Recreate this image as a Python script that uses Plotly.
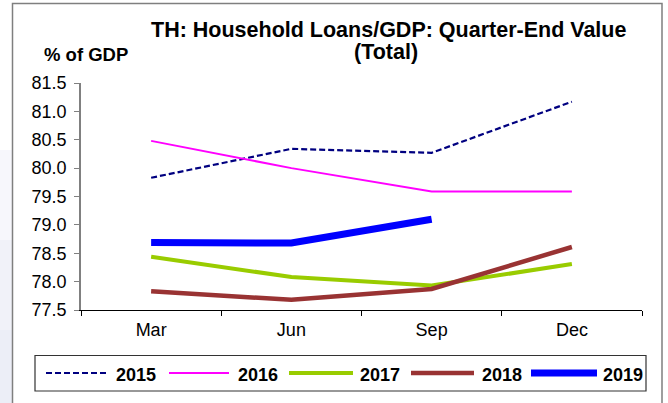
import plotly.graph_objects as go

# Quarter-end household loans as % of GDP, Thailand
quarters = ["Mar", "Jun", "Sep", "Dec"]
years = ["2015", "2016", "2017", "2018", "2019"]
y2015 = [79.83, 80.34, 80.27, 81.17]
y2016 = [80.48, 80.00, 79.59, 79.59]
y2017 = [78.44, 78.08, 77.93, 78.31]
y2018 = [77.83, 77.68, 77.87, 78.61]
y2019 = [78.69, 78.68, 79.10]
y_ticks = [77.5, 78.0, 78.5, 79.0, 79.5, 80.0, 80.5, 81.0, 81.5]

series_values = [y2015, y2016, y2017, y2018, y2019]
styles = [
    dict(color="#000080", width=2.2, dash="6px,3px"),
    dict(color="#FF00FF", width=2),
    dict(color="#99CC00", width=4),
    dict(color="#993333", width=4.5),
    dict(color="#0000FF", width=7),
]

W, H = 668, 403
L, R, T, B = 81, 26, 83, 93
PW, PH = W - L - R, H - T - B


def px(x):
    return (x - L) / PW


def py(y):
    return (H - B - y) / PH


FONT = "Liberation Sans, Arial, sans-serif"

fig = go.Figure()
for name, vals, st in zip(years, series_values, styles):
    fig.add_trace(go.Scatter(
        x=quarters[:len(vals)], y=vals, mode="lines", name=name,
        line=st, showlegend=False,
    ))

shapes = []
annotations = []

# light strip left of the chart frame
bands = [(60, 150, "#ffffff"), (150, 240, "#f7f7fc"), (240, 330, "#f1f2f9"), (330, 403, "#eceef7")]
for top, bot, col in bands:
    shapes.append(dict(type="rect", xref="paper", yref="paper",
                       x0=px(0), x1=px(12), y0=py(top), y1=py(bot),
                       line=dict(width=0), fillcolor=col, layer="below"))
# chart frame
shapes.append(dict(type="rect", xref="paper", yref="paper",
                   x0=px(12.5), x1=px(662), y0=py(3.5), y1=py(410),
                   line=dict(color="#7f7f7f", width=1.5), fillcolor="rgba(0,0,0,0)"))
# legend box
shapes.append(dict(type="rect", xref="paper", yref="paper",
                   x0=px(35), x1=px(646), y0=py(355.5), y1=py(391),
                   line=dict(color="#333333", width=1.2), fillcolor="white"))

# legend entries
line_x = [(46, 107), (169, 229), (289, 353), (411, 474), (531, 597)]
text_x = [114, 236, 358, 480, 601]
for name, st, (a, b), tx in zip(years, styles, line_x, text_x):
    shapes.append(dict(type="line", xref="paper", yref="paper",
                       x0=px(a), x1=px(b), y0=py(373), y1=py(373),
                       line=dict(color=st["color"], width=st["width"],
                                 dash=st.get("dash", "solid"))))
    annotations.append(dict(text=name, xref="paper", yref="paper",
                            x=px(tx), y=py(374.5), xanchor="left", yanchor="middle",
                            showarrow=False, font=dict(family=FONT, size=18, color="black", weight="bold")))

# titles
annotations.append(dict(text="TH: Household Loans/GDP: Quarter-End Value", xref="paper", yref="paper",
                        x=px(388), y=py(29.5), xanchor="center", yanchor="middle", showarrow=False,
                        font=dict(family=FONT, size=21.5, color="black", weight="bold")))
annotations.append(dict(text="(Total)", xref="paper", yref="paper",
                        x=px(386), y=py(52), xanchor="center", yanchor="middle", showarrow=False,
                        font=dict(family=FONT, size=21.5, color="black", weight="bold")))
annotations.append(dict(text="% of GDP", xref="paper", yref="paper",
                        x=px(42), y=py(54.5), xanchor="left", yanchor="middle", showarrow=False,
                        font=dict(family=FONT, size=18.5, color="black", weight="bold")))

fig.update_layout(
    width=W, height=H,
    margin=dict(l=L, r=R, t=T, b=B),
    paper_bgcolor="white", plot_bgcolor="white",
    shapes=shapes, annotations=annotations,
    showlegend=False,
    xaxis=dict(
        type="category", categoryorder="array", categoryarray=quarters,
        range=[-0.5, 3.5], tickson="boundaries",
        showline=True, linecolor="black", linewidth=1.2,
        ticks="outside", ticklen=5, tickcolor="black", tickwidth=1,
        showgrid=False, zeroline=False, ticklabelstandoff=3,
        tickfont=dict(family=FONT, size=18, color="black"),
    ),
    yaxis=dict(
        range=[77.5, 81.5], tickvals=y_ticks, ticktext=[f"{v:.1f}" for v in y_ticks],
        showline=True, linecolor="#808080", linewidth=1.5,
        ticks="outside", ticklen=5, tickcolor="#808080", tickwidth=1.2,
        showgrid=False, zeroline=False, ticklabelstandoff=4,
        tickfont=dict(family=FONT, size=18, color="black"),
    ),
)

fig.write_html("out.html")
